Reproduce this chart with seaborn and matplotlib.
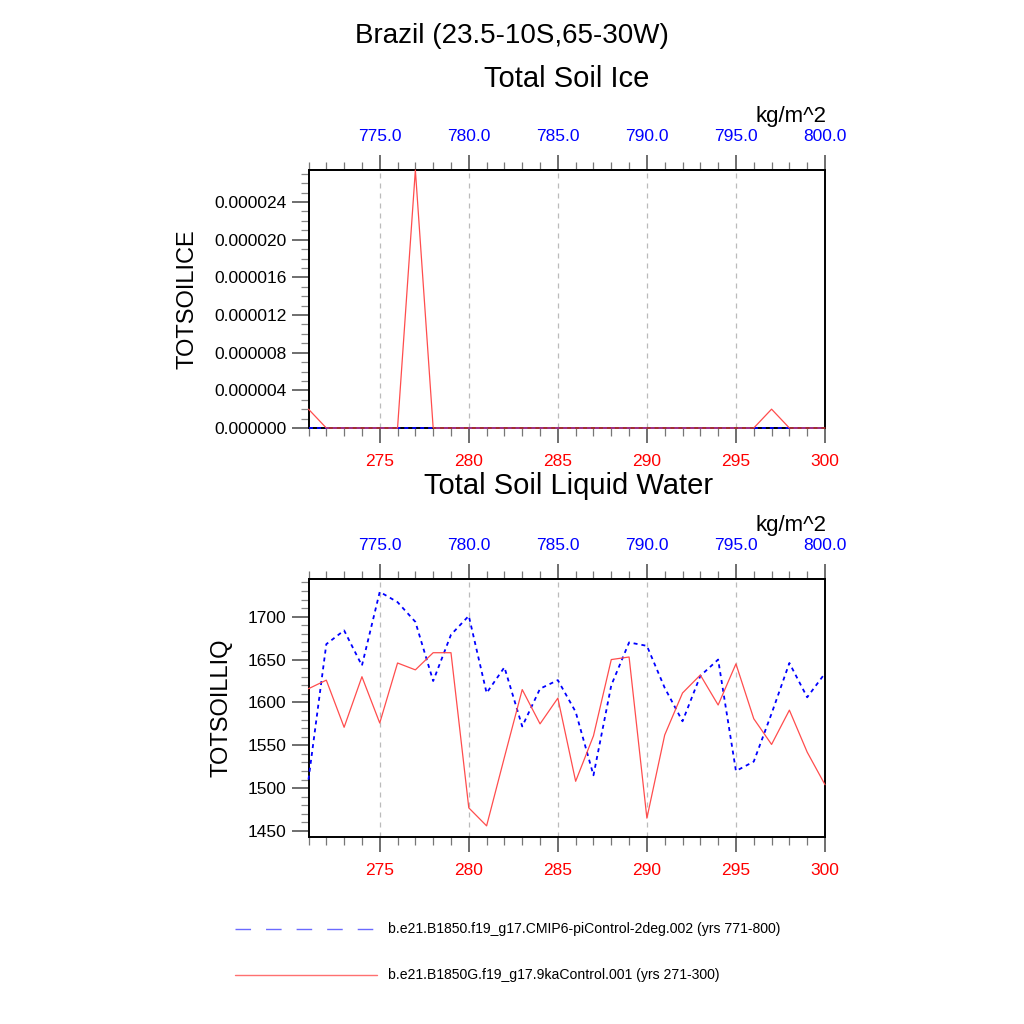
import numpy as np
import pandas as pd
import matplotlib
matplotlib.use("Agg")
import matplotlib.pyplot as plt
from matplotlib.ticker import MultipleLocator, FormatStrFormatter, FixedLocator
from matplotlib.lines import Line2D
import seaborn as sns

sns.set_theme(style="white")
plt.rcParams['font.family'] = ['Liberation Sans', 'DejaVu Sans']
plt.rcParams['text.color'] = 'black'
plt.rcParams['axes.labelcolor'] = 'black'

years = list(range(271, 301))
year_offset = 500  # control run years 771-800 on top axis

ice_9ka = [2.0e-6, 0, 0, 0, 0, 0, 2.74e-5, 0, 0, 0,
           0, 0, 0, 0, 0, 0, 0, 0, 0, 0,
           0, 0, 0, 0, 0, 0, 2.0e-6, 0, 0, 0]
ice_pi = [0.0] * 30

liq_9ka = [1616, 1626, 1571, 1630, 1576, 1646, 1638, 1658, 1658, 1477,
           1456, 1536, 1615, 1575, 1605, 1508, 1561, 1650, 1653, 1465,
           1562, 1611, 1632, 1597, 1645, 1581, 1551, 1591, 1542, 1504]
liq_pi = [1510, 1668, 1684, 1643, 1729, 1717, 1694, 1625, 1679, 1701,
          1611, 1641, 1572, 1616, 1626, 1589, 1515, 1620, 1670, 1666,
          1617, 1578, 1631, 1650, 1520, 1531, 1587, 1646, 1606, 1634]

label_pi = "b.e21.B1850.f19_g17.CMIP6-piControl-2deg.002 (yrs 771-800)"
label_9ka = "b.e21.B1850G.f19_g17.9kaControl.001 (yrs 271-300)"

red = "#ff4d4d"
blue = "#0000ff"

fig = plt.figure(figsize=(10.24, 10.24), dpi=100)
L = 308.5 / 1024
W = (825 - 308.5) / 1024
H = 258 / 1024
ax1 = fig.add_axes([L, 1 - 428 / 1024, W, H])
ax2 = fig.add_axes([L, 1 - 837 / 1024, W, H])


def style_axis(ax, ylim, ymajor, yminor, fmt, ylabel):
    ax.set_xlim(271, 300)
    ax.set_ylim(*ylim)
    for sp in ax.spines.values():
        sp.set_visible(True)
        sp.set_color("black")
        sp.set_linewidth(1.4)
    ax.xaxis.set_major_locator(FixedLocator([275, 280, 285, 290, 295, 300]))
    ax.xaxis.set_minor_locator(MultipleLocator(1))
    ax.yaxis.set_major_locator(MultipleLocator(ymajor))
    ax.yaxis.set_minor_locator(MultipleLocator(yminor))
    ax.yaxis.set_major_formatter(FormatStrFormatter(fmt))
    ax.tick_params(axis="x", which="major", direction="out", length=11, width=1.2,
                   colors="#555555", labelcolor="red", labelsize=12.5, pad=8,
                   bottom=True, top=False)
    ax.tick_params(axis="x", which="minor", direction="out", length=6, width=0.9,
                   colors="#777777", bottom=True, top=False)
    ax.tick_params(axis="y", which="major", direction="out", length=12, width=1.2,
                   colors="#555555", labelcolor="black", labelsize=12.5, pad=4,
                   left=True, right=False)
    ax.tick_params(axis="y", which="minor", direction="out", length=6, width=0.9,
                   colors="#888888", left=True, right=False)
    for xv in [275, 280, 285, 290, 295]:
        ax.axvline(xv, color="#bbbbbb", lw=0.9, ls=(0, (4, 4)), zorder=0)
    ax.set_xlabel("")
    ax.set_ylabel(ylabel, fontsize=17, labelpad=11, color="black")
    ax.grid(False)
    sec = ax.secondary_xaxis("top", functions=(lambda x: x + year_offset,
                                                lambda x: x - year_offset))
    sec.xaxis.set_major_locator(FixedLocator([775, 780, 785, 790, 795, 800]))
    sec.xaxis.set_minor_locator(MultipleLocator(1))
    sec.xaxis.set_major_formatter(FormatStrFormatter("%.1f"))
    sec.tick_params(axis="x", which="major", direction="out", length=11, width=1.2,
                    colors="#555555", labelcolor="blue", labelsize=12.5, pad=8)
    sec.tick_params(axis="x", which="minor", direction="out", length=6, width=0.9,
                    colors="#777777")
    sec.spines["top"].set_linewidth(1.4)
    ax.text(1.002, 1.165, "kg/m^2", transform=ax.transAxes, ha="right", va="bottom",
            fontsize=16, color="black")


df_ice = pd.DataFrame({"year": years, "pi": ice_pi, "ka": ice_9ka})
df_liq = pd.DataFrame({"year": years, "pi": liq_pi, "ka": liq_9ka})

for ax, df in [(ax1, df_ice), (ax2, df_liq)]:
    sns.lineplot(data=df, x="year", y="pi", ax=ax, color=blue, lw=1.3,
                 dashes=False, zorder=3, clip_on=False)
    ax.lines[-1].set_dashes((2.2, 2.2))
    sns.lineplot(data=df, x="year", y="ka", ax=ax, color=red, lw=0.9, zorder=4,
                 clip_on=False)

style_axis(ax1, (0, 2.74e-5), 4e-6, 1e-6, "%.6f", "TOTSOILICE")
style_axis(ax2, (1443, 1744), 50, 10, "%d", "TOTSOILLIQ")

fig.text(511.5 / 1024, 1 - 36 / 1024, "Brazil (23.5-10S,65-30W)", ha="center",
         va="center", fontsize=20)
fig.text(566.5 / 1024, 1 - 79 / 1024, "Total Soil Ice", ha="center", va="center",
         fontsize=21)
fig.text(569 / 1024, 1 - 486 / 1024, "Total Soil Liquid Water", ha="center",
         va="center", fontsize=21)

# legend drawn manually
fig.add_artist(Line2D([235 / 1024, 373 / 1024], [1 - 929 / 1024] * 2, color="#6a6aff",
                      lw=1.0, ls=(0, (11.2, 10.8)), transform=fig.transFigure))
fig.add_artist(Line2D([235 / 1024, 377 / 1024], [1 - 975 / 1024] * 2, color="#ff7070",
                      lw=1.0, transform=fig.transFigure))
fig.text(388 / 1024, 1 - 929 / 1024, label_pi, ha="left", va="center", fontsize=10.1)
fig.text(388 / 1024, 1 - 975 / 1024, label_9ka, ha="left", va="center", fontsize=10.1)

fig.savefig("out.png", dpi=100)
